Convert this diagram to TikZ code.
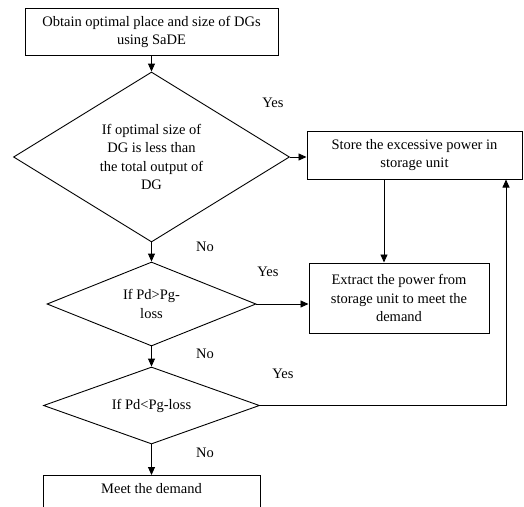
\documentclass[tikz,border=0pt]{standalone}
\usepackage{fontspec}
\setmainfont{Liberation Serif}
\usetikzlibrary{shapes.geometric,arrows.meta}
\begin{document}
\begin{tikzpicture}[x=1pt,y=-1pt,
  every node/.style={font=\fontsize{14.5}{18.5}\selectfont},
  procbox/.style={draw, line width=1pt, rectangle, inner sep=0pt, align=center},
  decision/.style={draw, line width=0.9pt, shape=diamond, inner sep=0pt, align=center},
  lbl/.style={inner sep=1pt},
  arr/.style={line width=0.9pt, -{Triangle[length=8pt,width=7pt]}},
  ln/.style={line width=0.9pt}]
\useasboundingbox (0,0) rectangle (524,506);
\clip (0,0) rectangle (524,506);
\node[procbox, minimum width=253pt, minimum height=47pt] (top) at (151.5,32) {Obtain optimal place and size of DGs\\using SaDE};
\node[decision, minimum width=276pt, minimum height=170pt, aspect=1.62] (d1) at (151.5,157) {If optimal size of\\DG is less than\\the total output of\\DG};
\node[decision, minimum width=209pt, minimum height=84pt, aspect=2.49] (d2) at (151.5,304) {If Pd>Pg-\\loss};
\node[decision, minimum width=216pt, minimum height=77pt, aspect=2.8] (d3) at (151.5,405.5) {If Pd<Pg-loss};
\node[procbox, minimum width=215pt, minimum height=48pt] (store) at (414.5,155) {Store the excessive power in\\storage unit};
\node[procbox, minimum width=180pt, minimum height=70pt] (extract) at (399,298) {Extract the power from\\storage unit to meet the\\demand};
\node[procbox, minimum width=217pt, anchor=north, inner ysep=8pt, text depth=30pt] (meet) at (151.5,475) {Meet the demand};
\node[lbl] (y1) at (273,103) {Yes};
\node[lbl] (n1) at (205,247) {No};
\node[lbl] (y2) at (268,272) {Yes};
\node[lbl] (n2) at (205,354) {No};
\node[lbl] (y3) at (283,374) {Yes};
\node[lbl] (n3) at (205,453) {No};
\coordinate (s1) at ([xshift=-30.5pt]store.south);
\coordinate (s2) at ([xshift=91.5pt]store.south);
\draw[arr] (top.south -| d1.north) -- (d1.north);
\draw[arr] (d1.east) -- (d1.east -| store.west);
\draw[arr] (s1) -- (s1 |- extract.north);
\draw[arr] (d1.south) -- (d2.north);
\draw[arr] (d2.east) -- (d2.east -| extract.west);
\draw[arr] (d2.south) -- (d3.north);
\draw[arr] (d3.east) -| (s2);
\draw[arr] (d3.south) -- (meet.north);
\end{tikzpicture}
\end{document}
